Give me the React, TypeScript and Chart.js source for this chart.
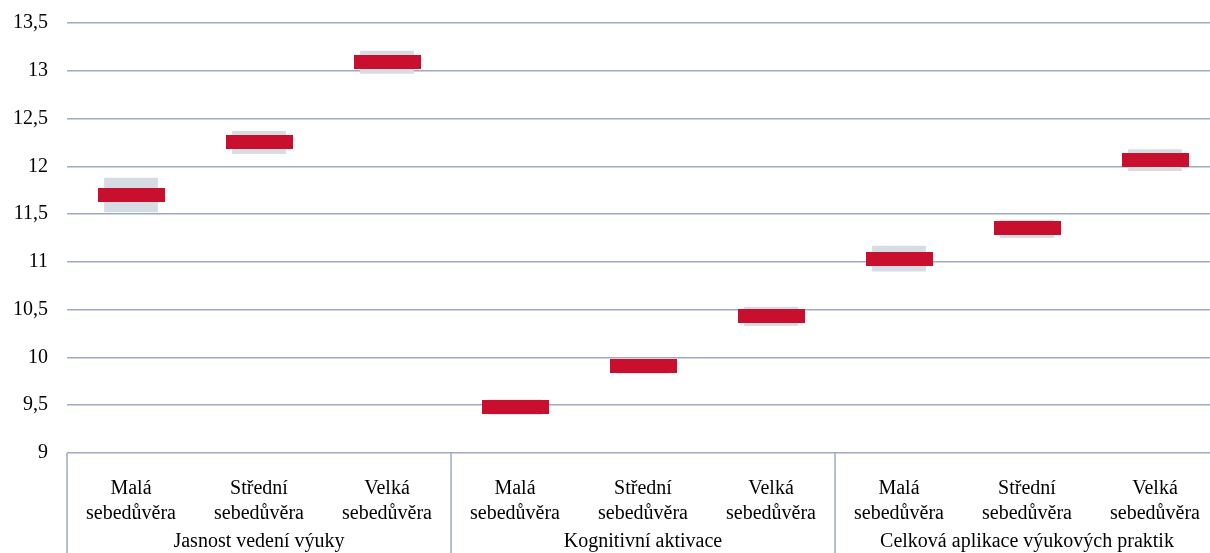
import React, { useEffect, useRef } from "react";
import { Chart, registerables } from "chart.js";

Chart.register(...registerables);

const subLabels: string[][] = [
  ["Malá", "sebedůvěra"], ["Střední", "sebedůvěra"], ["Velká", "sebedůvěra"],
  ["Malá", "sebedůvěra"], ["Střední", "sebedůvěra"], ["Velká", "sebedůvěra"],
  ["Malá", "sebedůvěra"], ["Střední", "sebedůvěra"], ["Velká", "sebedůvěra"],
];
const groupLabels = ["Jasnost vedení výuky", "Kognitivní aktivace", "Celková aplikace výukových praktik"];
const groupSize = 3;
const means = [11.70, 12.25, 13.09, 9.48, 9.91, 10.43, 11.03, 11.35, 12.07];
const ciLow = [11.52, 12.13, 12.97, 9.40, 9.83, 10.33, 10.90, 11.25, 11.95];
const ciHigh = [11.88, 12.37, 13.21, 9.56, 9.99, 10.53, 11.17, 11.44, 12.18];
const yMin = 9;
const yMax = 13.5;
const yStep = 0.5;

const FONT = "'Liberation Serif', 'Times New Roman', serif";
const LINE = "#9eaabf";
const RED = "#c8102e";
const GRAY = "#d6dce4";

export default function App() {
  const ref = useRef<HTMLCanvasElement | null>(null);
  useEffect(() => {
    document.body.style.margin = "0";
    document.body.style.overflow = "hidden";
    document.documentElement.style.overflow = "hidden";
    const marker = document.createElement("canvas");
    marker.width = 67;
    marker.height = 14;
    const mctx = marker.getContext("2d")!;
    mctx.fillStyle = RED;
    mctx.fillRect(0, 0, 67, 14);

    const groupPlugin = {
      id: "groupAxis",
      afterDraw(chart: any) {
        const ctx = chart.ctx;
        const x = chart.scales.x;
        const area = chart.chartArea;
        const half = (x.getPixelForValue(1) - x.getPixelForValue(0)) / 2;
        ctx.save();
        ctx.strokeStyle = LINE;
        ctx.lineWidth = 1.5;
        for (let g = 0; g <= groupLabels.length; g++) {
          const idx = g * groupSize;
          const px = idx < subLabels.length ? x.getPixelForValue(idx) - half : x.getPixelForValue(subLabels.length - 1) + half;
          ctx.beginPath();
          ctx.moveTo(px, area.bottom);
          ctx.lineTo(px, chart.height);
          ctx.stroke();
        }
        ctx.fillStyle = "#000";
        ctx.font = `20px ${FONT}`;
        ctx.textAlign = "center";
        ctx.textBaseline = "alphabetic";
        groupLabels.forEach((lab, g) => {
          const mid = x.getPixelForValue(g * groupSize + (groupSize - 1) / 2);
          ctx.fillText(lab, mid, area.bottom + 94);
        });
        ctx.restore();
      },
    };

    const chart = new Chart(ref.current!, {
      type: "bar",
      data: {
        labels: subLabels,
        datasets: [
          {
            type: "line",
            data: means,
            showLine: false,
            pointStyle: marker,
            pointRadius: 10,
            order: 0,
          } as any,
          {
            type: "bar",
            data: ciLow.map((l, i) => [l, ciHigh[i]]),
            backgroundColor: GRAY,
            borderWidth: 0,
            barPercentage: 0.42,
            categoryPercentage: 1,
            order: 1,
          } as any,
        ],
      },
      options: {
        responsive: false,
        animation: false,
        layout: { autoPadding: false, padding: { top: 23, right: 3, left: 0, bottom: 0 } },
        plugins: { legend: { display: false }, tooltip: { enabled: false } },
        scales: {
          x: {
            type: "category",
            offset: true,
            grid: { display: false },
            border: { display: false },
            ticks: {
              autoSkip: false,
              maxRotation: 0,
              minRotation: 0,
              padding: 15,
              color: "#000",
              font: { family: FONT, size: 20, lineHeight: 1.25 },
            },
            afterFit(scale: any) {
              scale.height = 100;
              scale.paddingLeft = 0;
              scale.paddingRight = 0;
            },
          },
          y: {
            min: yMin,
            max: yMax,
            border: { display: false },
            grid: { color: LINE, lineWidth: 1.5, drawTicks: false },
            ticks: {
              stepSize: yStep,
              padding: 19,
              color: "#000",
              font: { family: FONT, size: 20 },
              callback: (v: any) => String(v).replace(".", ","),
            },
            afterFit(scale: any) {
              scale.width = 67;
              scale.paddingTop = 0;
              scale.paddingBottom = 0;
            },
          },
        },
      },
      plugins: [groupPlugin],
    });
    return () => chart.destroy();
  }, []);
  return (
    <div style={{ width: 1222, height: 553, position: "relative" }}>
      <canvas ref={ref} width={1222} height={553} />
    </div>
  );
}
